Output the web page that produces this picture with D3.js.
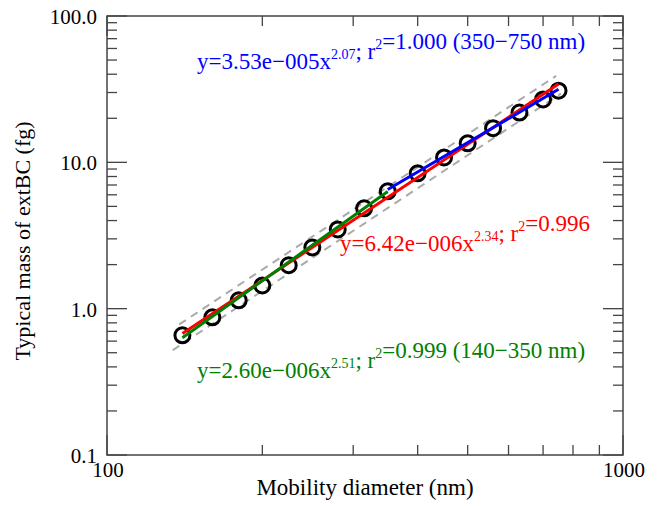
<!DOCTYPE html>
<html>
<head>
<meta charset="utf-8">
<script src="https://cdn.jsdelivr.net/npm/d3@7"></script>
<style>
  body { margin: 0; background: #fff; }
  text, tspan { font-family: "Liberation Serif", "Times New Roman", serif; }
</style>
</head>
<body>
<div id="chart"></div>
<script>
// Measured points: mobility diameter (nm) vs typical mass (fg)
var diameters = [140, 160, 180, 200, 225, 250, 280, 315, 350, 400, 450, 500, 560, 630, 700, 750]
var masses = [0.657, 0.872, 1.14, 1.44, 1.98, 2.62, 3.48, 4.85, 6.34, 8.41, 10.8, 13.5, 17.1, 21.9, 26.9, 30.9]

// Fit line end points [diameter, mass]
var redFit = [[140, 0.676], [750, 34.3]]
var greenFit = [[140, 0.633], [350, 6.32]]
var blueFit = [[350, 6.52], [750, 31.6]]
var bandUpper = [[138, 0.78], [742, 39.0]]
var bandLower = [[134, 0.52], [758, 29.5]]

var xTickLabels = ['100', '1000']
var yTickLabels = ['0.1', '1.0', '10.0', '100.0']

var width = 659
var height = 506
var margin = { left: 107, right: 36, top: 16, bottom: 51 }
var w = width - margin.left - margin.right
var h = height - margin.top - margin.bottom

var svg = d3.select('#chart').append('svg')
  .attr('width', width)
  .attr('height', height)
  .attr('font-family', '"Liberation Serif", "Times New Roman", serif')

var g = svg.append('g')
  .attr('transform', 'translate(' + margin.left + ',' + margin.top + ')')

var x = d3.scaleLog().domain([100, 1000]).range([0, w])
var y = d3.scaleLog().domain([0.1, 100]).range([h, 0])

var axisColor = '#444'
var majorLen = 20
var minorLen = 10

// ticks on all four sides, pointing inwards
var xTicks = x.ticks()
var yTicks = y.ticks()
function isMajor (v) { return Math.abs(Math.log10(v) - Math.round(Math.log10(v))) < 1e-9 }

var tickG = g.append('g').attr('stroke', axisColor).attr('stroke-width', 1.3)
xTicks.forEach(function (v) {
  var len = isMajor(v) ? majorLen : minorLen
  tickG.append('line').attr('x1', x(v)).attr('x2', x(v)).attr('y1', h).attr('y2', h - len)
  tickG.append('line').attr('x1', x(v)).attr('x2', x(v)).attr('y1', 0).attr('y2', len)
})
yTicks.forEach(function (v) {
  var len = isMajor(v) ? majorLen : minorLen
  tickG.append('line').attr('x1', 0).attr('x2', len).attr('y1', y(v)).attr('y2', y(v))
  tickG.append('line').attr('x1', w).attr('x2', w - len).attr('y1', y(v)).attr('y2', y(v))
})

g.append('rect')
  .attr('width', w)
  .attr('height', h)
  .attr('fill', 'none')
  .attr('stroke', axisColor)
  .attr('stroke-width', 1.5)

// tick labels
var yMajors = yTicks.filter(isMajor)
g.append('g').selectAll('text')
  .data(yMajors)
  .join('text')
  .attr('x', -10)
  .attr('y', d => y(d) + 8)
  .attr('text-anchor', 'end')
  .attr('font-size', 21)
  .text((d, i) => yTickLabels[i])

var xMajors = xTicks.filter(isMajor)
g.append('g').selectAll('text')
  .data(xMajors)
  .join('text')
  .attr('x', d => x(d) + 1)
  .attr('y', h + 22)
  .attr('text-anchor', 'middle')
  .attr('font-size', 21)
  .text((d, i) => xTickLabels[i])

// axis titles
svg.append('text')
  .attr('x', 365)
  .attr('y', 495)
  .attr('text-anchor', 'middle')
  .attr('font-size', 23)
  .text('Mobility diameter (nm)')

svg.append('text')
  .attr('transform', 'translate(30,241) rotate(-90)')
  .attr('text-anchor', 'middle')
  .attr('font-size', 22)
  .text('Typical mass of extBC (fg)')

var line = d3.line().x(d => x(d[0])).y(d => y(d[1]))

// dashed band
;[bandUpper, bandLower].forEach(function (b) {
  g.append('path')
    .attr('d', line(b))
    .attr('fill', 'none')
    .attr('stroke', '#aaa')
    .attr('stroke-width', 2)
    .attr('stroke-dasharray', '8,6')
})

// data circles
g.append('g').selectAll('circle')
  .data(diameters)
  .join('circle')
  .attr('cx', d => x(d))
  .attr('cy', (d, i) => y(masses[i]))
  .attr('r', 7.5)
  .attr('fill', 'none')
  .attr('stroke', '#000')
  .attr('stroke-width', 3)

// fit lines
;[[redFit, '#ff0000'], [greenFit, '#008000'], [blueFit, '#0000ff']].forEach(function (f) {
  g.append('path')
    .attr('d', line(f[0]))
    .attr('fill', 'none')
    .attr('stroke', f[1])
    .attr('stroke-width', 3)
})

// equation labels
function equation (px, py, color, parts) {
  var t = svg.append('text')
    .attr('x', px)
    .attr('y', py)
    .attr('fill', color)
    .attr('font-size', 23)
  parts.forEach(function (p) {
    if (p.sup) {
      t.append('tspan').attr('dy', -10).attr('font-size', 14).text(p.sup)
      t.append('tspan').attr('dy', 10).text('')
    } else {
      t.append('tspan').text(p.t)
    }
  })
}

equation(197, 69, '#0000ff', [
  { t: 'y=3.53e\u2212005x' }, { sup: '2.07' }, { t: '; r' }, { sup: '2' }, { t: '=1.000 (350\u2212750 nm)' }
])
equation(340, 251, '#ff0000', [
  { t: 'y=6.42e\u2212006x' }, { sup: '2.34' }, { t: '; r' }, { sup: '2' }, { t: '=0.996' }
])
equation(197, 378, '#008000', [
  { t: 'y=2.60e\u2212006x' }, { sup: '2.51' }, { t: '; r' }, { sup: '2' }, { t: '=0.999 (140\u2212350 nm)' }
])
</script>
</body>
</html>
